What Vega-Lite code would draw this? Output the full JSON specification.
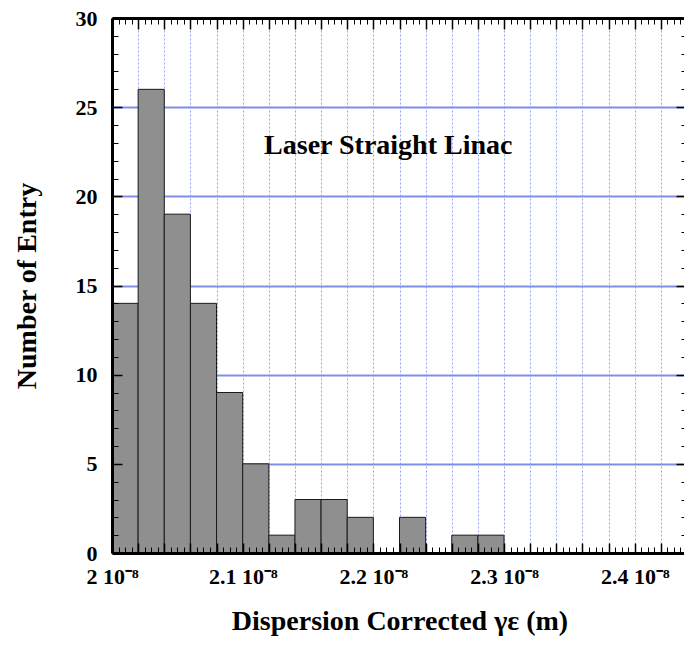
{
  "$schema": "https://vega.github.io/schema/vega-lite/v6.json",
  "autosize": "none",
  "padding": {"left": 112, "top": 18, "right": 0, "bottom": 96},
  "width": 575,
  "height": 535,
  "background": "white",
  "config": {
    "view": {"stroke": null},
    "font": "Liberation Serif",
    "axis": {"labelFont": "Liberation Serif", "titleFont": "Liberation Serif", "labelFontWeight": "bold", "titleFontWeight": "bold", "labelColor": "black", "titleColor": "black", "tickColor": "black", "domainColor": "black", "labelOverlap": false, "labelFlush": false, "labelBound": false}
  },
  "resolve": {"axis": {"x": "independent", "y": "independent"}},
  "layer": [
    {
      "data": {"values": [
        {"start": 2.00e-8, "end": 2.02e-8, "count": 14},
        {"start": 2.02e-8, "end": 2.04e-8, "count": 26},
        {"start": 2.04e-8, "end": 2.06e-8, "count": 19},
        {"start": 2.06e-8, "end": 2.08e-8, "count": 14},
        {"start": 2.08e-8, "end": 2.10e-8, "count": 9},
        {"start": 2.10e-8, "end": 2.12e-8, "count": 5},
        {"start": 2.12e-8, "end": 2.14e-8, "count": 1},
        {"start": 2.14e-8, "end": 2.16e-8, "count": 3},
        {"start": 2.16e-8, "end": 2.18e-8, "count": 3},
        {"start": 2.18e-8, "end": 2.20e-8, "count": 2},
        {"start": 2.20e-8, "end": 2.22e-8, "count": 0},
        {"start": 2.22e-8, "end": 2.24e-8, "count": 2},
        {"start": 2.24e-8, "end": 2.26e-8, "count": 0},
        {"start": 2.26e-8, "end": 2.28e-8, "count": 1},
        {"start": 2.28e-8, "end": 2.30e-8, "count": 1}
      ]},
      "mark": {"type": "rect", "fill": "#8f8f8f", "stroke": "#1a1a1a", "strokeWidth": 1},
      "encoding": {
        "x": {"field": "start", "type": "quantitative",
          "scale": {"domain": [2e-8, 2.44e-8], "nice": false, "zero": false},
          "axis": {"orient": "bottom", "values": [2.02e-8,2.04e-8,2.06e-8,2.08e-8,2.1e-8,2.12e-8,2.14e-8,2.16e-8,2.18e-8,2.2e-8,2.22e-8,2.24e-8,2.26e-8,2.28e-8,2.3e-8,2.32e-8,2.34e-8,2.36e-8,2.38e-8,2.4e-8,2.42e-8],
            "grid": true, "gridColor": "#7486e6", "gridDash": [2, 2], "gridWidth": 1, "gridOpacity": 0.75,
            "ticks": false, "labels": false, "domain": false, "title": null, "zindex": 0}},
        "x2": {"field": "end"},
        "y": {"field": "count", "type": "quantitative",
          "scale": {"domain": [0, 30], "nice": false},
          "axis": {"orient": "left", "values": [5, 10, 15, 20, 25],
            "grid": true, "gridColor": "#7f8fe6", "gridWidth": 2,
            "ticks": false, "labels": false, "domain": false, "title": null, "zindex": 0}},
        "y2": {"datum": 0}
      }
    },
    {
      "data": {"values": [{}]},
      "mark": {"type": "text", "text": "Laser Straight Linac", "font": "Liberation Serif", "fontWeight": "bold", "fontSize": 28, "align": "center", "baseline": "alphabetic", "color": "black"},
      "encoding": {
        "x": {"datum": 2.2114e-8, "type": "quantitative",
          "axis": {"orient": "bottom", "values": [2e-8,2.02e-8,2.04e-8,2.06e-8,2.08e-8,2.1e-8,2.12e-8,2.14e-8,2.16e-8,2.18e-8,2.2e-8,2.22e-8,2.24e-8,2.26e-8,2.28e-8,2.3e-8,2.32e-8,2.34e-8,2.36e-8,2.38e-8,2.4e-8,2.42e-8,2.44e-8],
            "labelExpr": "abs(round(datum.value*1e10) % 10) == 0 ? format(datum.value*1e8, '.1~f') + ' 10⁻⁸' : ''",
            "labelFontSize": 22, "labelPadding": 23,
            "tickSize": -10, "tickWidth": 1.5, "domain": true, "domainWidth": 3, "grid": false,
            "title": "Dispersion Corrected γε (m)", "titleFontSize": 28, "titlePadding": 20, "zindex": 1}},
        "y": {"datum": 22.4, "type": "quantitative",
          "axis": {"orient": "left", "values": [0, 5, 10, 15, 20, 25, 30],
            "labelFontSize": 22, "labelPadding": 25,
            "tickSize": -10, "tickWidth": 1.5, "domain": true, "domainWidth": 3, "grid": false,
            "title": "Number of Entry", "titleFontSize": 28, "titlePadding": 34, "zindex": 1}}
      }
    },
    {
      "mark": {"type": "point", "opacity": 0, "size": 0},
      "encoding": {
        "x": {"datum": 2.1e-8, "type": "quantitative",
          "axis": {"orient": "bottom", "values": [2e-8,2.005e-8,2.01e-8,2.015e-8,2.02e-8,2.025e-8,2.03e-8,2.035e-8,2.04e-8,2.045e-8,2.05e-8,2.055e-8,2.06e-8,2.065e-8,2.07e-8,2.075e-8,2.08e-8,2.085e-8,2.09e-8,2.095e-8,2.1e-8,2.105e-8,2.11e-8,2.115e-8,2.12e-8,2.125e-8,2.13e-8,2.135e-8,2.14e-8,2.145e-8,2.15e-8,2.155e-8,2.16e-8,2.165e-8,2.17e-8,2.175e-8,2.18e-8,2.185e-8,2.19e-8,2.195e-8,2.2e-8,2.205e-8,2.21e-8,2.215e-8,2.22e-8,2.225e-8,2.23e-8,2.235e-8,2.24e-8,2.245e-8,2.25e-8,2.255e-8,2.26e-8,2.265e-8,2.27e-8,2.275e-8,2.28e-8,2.285e-8,2.29e-8,2.295e-8,2.3e-8,2.305e-8,2.31e-8,2.315e-8,2.32e-8,2.325e-8,2.33e-8,2.335e-8,2.34e-8,2.345e-8,2.35e-8,2.355e-8,2.36e-8,2.365e-8,2.37e-8,2.375e-8,2.38e-8,2.385e-8,2.39e-8,2.395e-8,2.4e-8,2.405e-8,2.41e-8,2.415e-8,2.42e-8,2.425e-8,2.43e-8,2.435e-8,2.44e-8],
            "labels": false, "tickSize": -6, "tickWidth": 1, "domain": false, "grid": false, "title": null, "zindex": 1}},
        "y": {"datum": 10, "type": "quantitative",
          "axis": {"orient": "left", "values": [0,1,2,3,4,5,6,7,8,9,10,11,12,13,14,15,16,17,18,19,20,21,22,23,24,25,26,27,28,29,30],
            "labels": false, "tickSize": -6, "tickWidth": 1, "domain": false, "grid": false, "title": null, "zindex": 1}}
      }
    },
    {
      "mark": {"type": "point", "opacity": 0, "size": 0},
      "encoding": {
        "x": {"datum": 2.1e-8, "type": "quantitative",
          "axis": {"orient": "top", "values": [2e-8,2.02e-8,2.04e-8,2.06e-8,2.08e-8,2.1e-8,2.12e-8,2.14e-8,2.16e-8,2.18e-8,2.2e-8,2.22e-8,2.24e-8,2.26e-8,2.28e-8,2.3e-8,2.32e-8,2.34e-8,2.36e-8,2.38e-8,2.4e-8,2.42e-8,2.44e-8],
            "labels": false, "tickSize": -11, "tickWidth": 1.5, "domain": true, "domainWidth": 3, "grid": false, "title": null, "zindex": 1}},
        "y": {"datum": 10, "type": "quantitative",
          "axis": {"orient": "right", "values": [0, 5, 10, 15, 20, 25, 30],
            "labels": false, "tickSize": -11, "tickWidth": 1.5, "domain": true, "domainWidth": 3, "grid": false, "title": null, "zindex": 1}}
      }
    },
    {
      "mark": {"type": "point", "opacity": 0, "size": 0},
      "encoding": {
        "x": {"datum": 2.1e-8, "type": "quantitative",
          "axis": {"orient": "top", "values": [2e-8,2.005e-8,2.01e-8,2.015e-8,2.02e-8,2.025e-8,2.03e-8,2.035e-8,2.04e-8,2.045e-8,2.05e-8,2.055e-8,2.06e-8,2.065e-8,2.07e-8,2.075e-8,2.08e-8,2.085e-8,2.09e-8,2.095e-8,2.1e-8,2.105e-8,2.11e-8,2.115e-8,2.12e-8,2.125e-8,2.13e-8,2.135e-8,2.14e-8,2.145e-8,2.15e-8,2.155e-8,2.16e-8,2.165e-8,2.17e-8,2.175e-8,2.18e-8,2.185e-8,2.19e-8,2.195e-8,2.2e-8,2.205e-8,2.21e-8,2.215e-8,2.22e-8,2.225e-8,2.23e-8,2.235e-8,2.24e-8,2.245e-8,2.25e-8,2.255e-8,2.26e-8,2.265e-8,2.27e-8,2.275e-8,2.28e-8,2.285e-8,2.29e-8,2.295e-8,2.3e-8,2.305e-8,2.31e-8,2.315e-8,2.32e-8,2.325e-8,2.33e-8,2.335e-8,2.34e-8,2.345e-8,2.35e-8,2.355e-8,2.36e-8,2.365e-8,2.37e-8,2.375e-8,2.38e-8,2.385e-8,2.39e-8,2.395e-8,2.4e-8,2.405e-8,2.41e-8,2.415e-8,2.42e-8,2.425e-8,2.43e-8,2.435e-8,2.44e-8],
            "labels": false, "tickSize": -6, "tickWidth": 1, "domain": false, "grid": false, "title": null, "zindex": 1}},
        "y": {"datum": 10, "type": "quantitative",
          "axis": {"orient": "right", "values": [0,1,2,3,4,5,6,7,8,9,10,11,12,13,14,15,16,17,18,19,20,21,22,23,24,25,26,27,28,29,30],
            "labels": false, "tickSize": -6, "tickWidth": 1, "domain": false, "grid": false, "title": null, "zindex": 1}}
      }
    }
  ]
}
